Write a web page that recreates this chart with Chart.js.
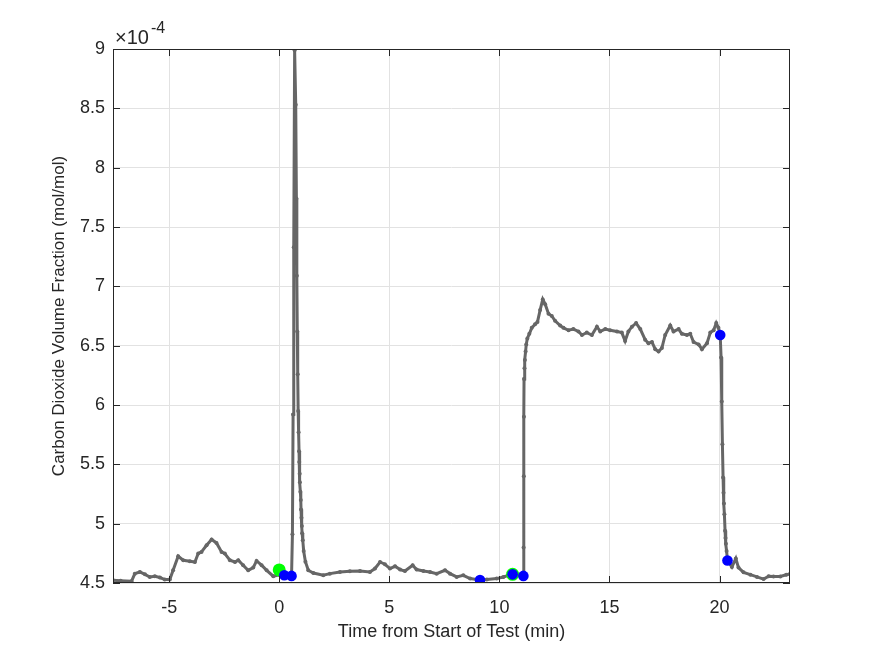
<!DOCTYPE html>
<html><head><meta charset="utf-8">
<script src="https://cdn.jsdelivr.net/npm/chart.js@4"></script>
<style>html,body{margin:0;padding:0;background:#fff}canvas{display:block}</style>
</head><body>
<canvas id="c" width="875" height="656"></canvas>
<script>
// Time from start of test (min)
const timeMin = [
 -7.55,-7.2,-6.71,-6.56,-6.33,-6.10,-5.88,-5.65,-5.42,-5.20,-4.97,-4.82,-4.59,-4.36,-4.06,-3.83,-3.68,-3.53,-3.30,-3.07,
 -2.85,-2.62,-2.47,-2.24,-2.01,-1.86,-1.64,-1.41,-1.18,-1.03,-0.80,-0.57,-0.27,0.0,0.23,0.45,0.56,
 0.60,0.63,0.66,0.70,0.75,0.78,0.80,0.82,0.84,0.86,0.88,0.90,0.91,0.93,0.94,0.96,0.98,0.99,1.01,1.03,1.04,1.07,1.11,1.19,
 1.32,1.55,2.0,2.30,2.76,3.21,3.67,4.12,4.35,4.58,4.80,5.03,5.26,5.49,5.71,6.06,6.24,6.55,6.85,7.15,7.53,7.76,8.06,8.36,8.67,
 9.12,9.43,9.88,10.18,10.56,10.85,11.09,
 11.10,11.11,11.115,11.12,11.14,11.16,11.19,11.22,11.27,11.36,11.47,11.62,11.73,11.85,11.97,12.08,12.23,12.38,12.53,12.76,12.91,
 13.14,13.36,13.59,13.75,13.97,14.2,14.43,14.58,14.81,15.03,15.34,15.56,15.71,15.86,16.02,16.21,16.40,16.62,16.77,16.93,
 17.08,17.23,17.38,17.53,17.76,17.91,18.14,18.29,18.52,18.67,18.82,19.05,19.20,19.43,19.58,19.73,19.85,19.95,20.03,
 20.07,20.10,20.13,20.16,20.18,20.20,20.22,20.25,20.27,20.29,20.32,20.36,20.56,20.74,20.86,21.09,21.40,21.70,22.0,22.23,
 22.45,22.76,23.03,23.2
];
// CO2 volume fraction (x 1e-4 mol/mol)
const co2E4 = [
 4.523,4.52,4.514,4.579,4.593,4.573,4.551,4.557,4.546,4.529,4.529,4.607,4.725,4.692,4.683,4.677,4.748,4.762,4.818,4.866,
 4.838,4.762,4.748,4.692,4.677,4.692,4.650,4.607,4.630,4.686,4.650,4.607,4.557,4.57,4.565,4.56,4.56,
 4.91,5.92,7.33,8.99,8.53,7.74,7.09,6.62,6.26,5.95,5.77,5.61,5.52,5.42,5.35,5.27,5.20,5.12,5.05,4.98,4.92,4.86,4.77,4.68,
 4.607,4.584,4.565,4.579,4.593,4.599,4.601,4.593,4.622,4.677,4.658,4.622,4.641,4.613,4.601,4.649,4.613,4.601,4.593,4.579,4.607,4.579,4.551,4.565,4.537,
 4.525,4.529,4.537,4.551,4.573,4.566,4.56,
 4.80,5.40,5.90,6.22,6.31,6.38,6.45,6.51,6.56,6.60,6.65,6.68,6.70,6.80,6.89,6.85,6.77,6.75,6.71,6.67,6.65,
 6.63,6.64,6.62,6.59,6.61,6.59,6.66,6.62,6.64,6.63,6.62,6.61,6.54,6.62,6.66,6.69,6.64,6.55,6.52,6.53,
 6.47,6.45,6.48,6.59,6.67,6.62,6.64,6.60,6.59,6.60,6.53,6.51,6.47,6.52,6.61,6.63,6.69,6.65,6.59,
 6.40,6.03,5.67,5.39,5.26,5.17,5.08,4.94,4.88,4.83,4.77,4.69,4.635,4.706,4.63,4.59,4.57,4.551,4.533,4.557,
 4.555,4.555,4.57,4.575
];
const greenTime = [0.0, 10.6];
const greenCo2 = [4.61, 4.573];
const blueTime = [0.23, 0.56, 9.12, 10.6, 11.09, 20.03, 20.36];
const blueCo2 = [4.565, 4.56, 4.525, 4.573, 4.56, 6.59, 4.69];
const xTickValues = [-5, 0, 5, 10, 15, 20];
const yTickValues = [4.5, 5, 5.5, 6, 6.5, 7, 7.5, 8, 8.5, 9];
const xLabel = 'Time from Start of Test (min)';
const yLabel = 'Carbon Dioxide Volume Fraction (mol/mol)';
const exponentBase = '\u00d710';
const exponentPower = '-4';

const pts = (xs, ys) => xs.map((t, i) => ({x: t, y: ys[i]}));
const FONT = '"Liberation Sans", Arial, Helvetica, sans-serif';
const TXT = '#262626';

const frame = {
  id: 'frame',
  afterDraw(chart) {
    const {ctx, chartArea: a, scales: {x, y}} = chart;
    ctx.save();
    ctx.strokeStyle = TXT; ctx.lineWidth = 1;
    ctx.beginPath();
    xTickValues.forEach(v => {
      const px = Math.round(x.getPixelForValue(v)) + 0.5;
      ctx.moveTo(px, a.bottom); ctx.lineTo(px, a.bottom - 7);
      ctx.moveTo(px, a.top); ctx.lineTo(px, a.top + 7);
    });
    yTickValues.forEach(v => {
      const py = Math.round(y.getPixelForValue(v)) + 0.5;
      ctx.moveTo(a.left, py); ctx.lineTo(a.left + 7, py);
      ctx.moveTo(a.right, py); ctx.lineTo(a.right - 7, py);
    });
    ctx.stroke();
    ctx.strokeRect(a.left + 0.5, a.top + 0.5, a.right - a.left - 1, a.bottom - a.top - 1);
    ctx.fillStyle = TXT;
    ctx.textBaseline = 'alphabetic';
    ctx.textAlign = 'left';
    ctx.font = '20px ' + FONT;
    ctx.fillText(exponentBase, a.left + 2, a.top - 5);
    const w = ctx.measureText(exponentBase).width;
    ctx.font = '16px ' + FONT;
    ctx.fillText(exponentPower, a.left + 2 + w + 2, a.top - 16);
    ctx.restore();
  }
};

new Chart(document.getElementById('c'), {
  type: 'scatter',
  data: {
    datasets: [
      {
        type: 'line',
        data: pts(timeMin, co2E4),
        borderColor: '#666666',
        backgroundColor: '#666666',
        borderWidth: 3,
        pointRadius: 2,
        pointBorderWidth: 0,
        tension: 0,
        fill: false,
        order: 3
      },
      {
        data: pts(greenTime, greenCo2),
        backgroundColor: '#00ff00',
        borderColor: '#00ff00',
        pointRadius: 6.5,
        pointBorderWidth: 0,
        order: 2
      },
      {
        data: pts(blueTime, blueCo2),
        backgroundColor: '#0000ff',
        borderColor: '#0000ff',
        pointRadius: 5.3,
        pointBorderWidth: 0,
        order: 1
      }
    ]
  },
  options: {
    responsive: false,
    animation: false,
    devicePixelRatio: 1,
    layout: {padding: {left: 0, top: 49, right: 85, bottom: 0}},
    plugins: {legend: {display: false}, tooltip: {enabled: false}},
    scales: {
      x: {
        type: 'linear',
        min: -7.55, max: 23.2,
        afterFit: s => { s.height = 73; },
        afterBuildTicks: s => { s.ticks = xTickValues.map(v => ({value: v})); },
        grid: {color: '#e2e2e2', lineWidth: 1, drawTicks: false},
        border: {display: false},
        ticks: {color: TXT, font: {family: FONT, size: 18}, padding: 14, maxRotation: 0,
                callback: v => String(v)},
        title: {display: true, text: xLabel, color: TXT, font: {family: FONT, size: 18}, padding: {top: 0, bottom: 13}}
      },
      y: {
        type: 'linear',
        min: 4.5, max: 9,
        afterFit: s => { s.width = 113; },
        afterBuildTicks: s => { s.ticks = yTickValues.map(v => ({value: v})); },
        grid: {color: '#e2e2e2', lineWidth: 1, drawTicks: false},
        border: {display: false},
        ticks: {color: TXT, font: {family: FONT, size: 18}, padding: 8,
                callback: v => String(v)},
        title: {display: true, text: yLabel, color: TXT, font: {family: FONT, size: 17}, padding: {top: 49, bottom: 0}}
      }
    }
  },
  plugins: [frame]
});
</script>
</body></html>
